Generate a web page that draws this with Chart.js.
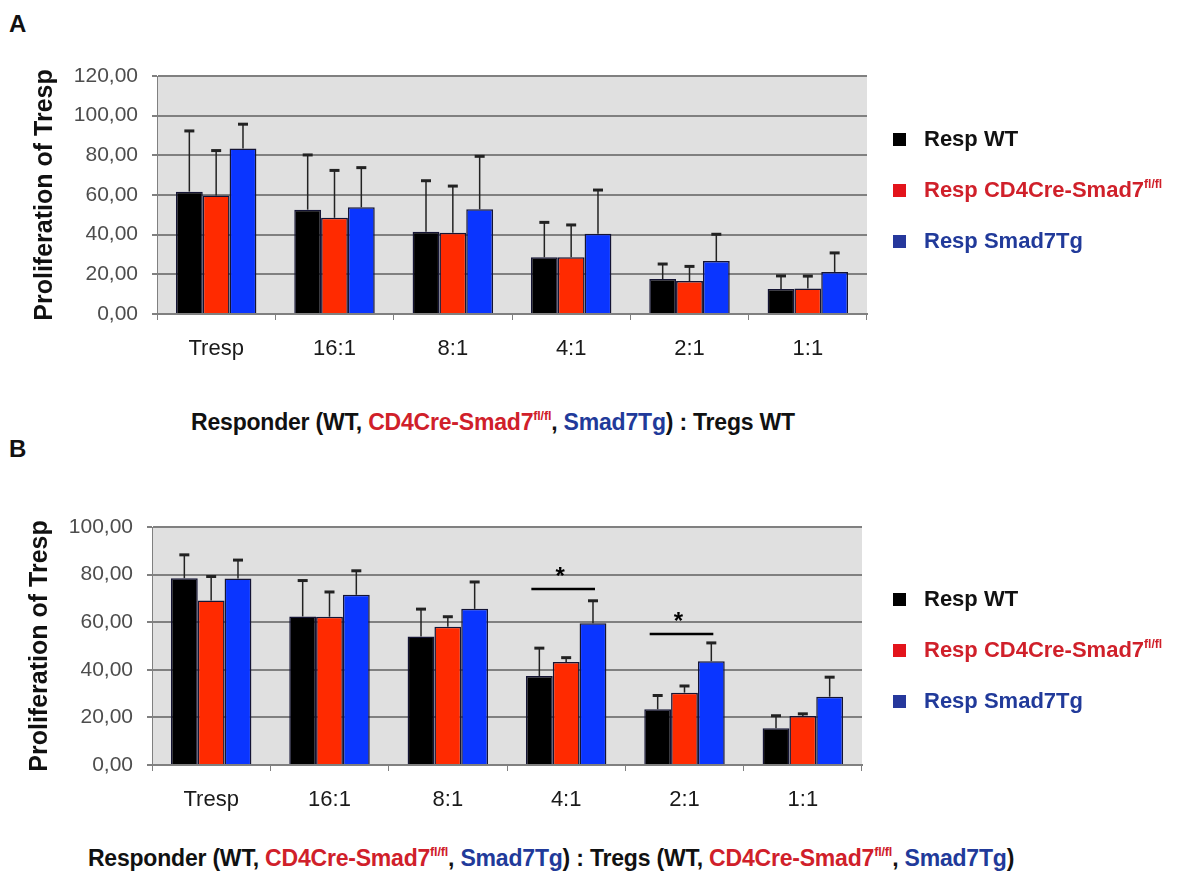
<!DOCTYPE html>
<html>
<head>
<meta charset="utf-8">
<title>Proliferation of Tresp</title>
<script src="https://cdn.jsdelivr.net/npm/chart.js@4.4.1/dist/chart.umd.min.js"></script>
<style>
    body { margin: 0; background: #fff; font-family: "Liberation Sans", Arial, sans-serif; }
    #page { position: relative; width: 1183px; height: 875px; overflow: hidden; }
    canvas { position: absolute; left: 0; }
    #chartA { top: 0; }
    #chartB { top: 440px; }
    .panel { position: absolute; left: 9px; font-weight: bold; font-size: 24px; line-height: 24px; color: #111; }
    .legend { position: absolute; left: 893px; font-weight: bold; font-size: 22px; }
    .legend .row { position: absolute; left: 0; height: 26px; display: flex; align-items: center; white-space: nowrap; }
    .legend .box { width: 13px; height: 13px; margin-right: 18px; }
    .xlabel { position: absolute; font-weight: bold; font-size: 23px; white-space: nowrap; transform: translate(-50%, -50%); color: #111; letter-spacing: -0.2px; }
    .r { color: #d0202a; }
    .b { color: #213a9a; }
    sup { font-size: 0.55em; vertical-align: 0.75em; line-height: 0; }
</style>
</head>
<body>
<div id="page">
    <div class="panel" style="top:12px">A</div>
    <div class="panel" style="top:437px">B</div>
    <canvas id="chartA" width="1183" height="400"></canvas>
    <canvas id="chartB" width="1183" height="400"></canvas>
    <div class="legend" id="legendA" style="top:126px"></div>
    <div class="legend" id="legendB" style="top:586px"></div>
    <div class="xlabel" style="left:493px; top:422px">Responder (WT, <span class="r">CD4Cre-Smad7<sup>fl/fl</sup></span>, <span class="b">Smad7Tg</span>) : Tregs WT</div>
    <div class="xlabel" style="left:551px; top:858px">Responder (WT, <span class="r">CD4Cre-Smad7<sup>fl/fl</sup></span>, <span class="b">Smad7Tg</span>) : Tregs (WT, <span class="r">CD4Cre-Smad7<sup>fl/fl</sup></span>, <span class="b">Smad7Tg</span>)</div>
</div>
<script>
// categories and series
const ratios = ["Tresp", "16:1", "8:1", "4:1", "2:1", "1:1"];
const seriesNames = ["Resp WT", "Resp CD4Cre-Smad7fl/fl", "Resp Smad7Tg"];
const barColors = ["#000000", "#ff2a00", "#0a35ff"];
const legendColors = ["#000000", "#e3141b", "#26389c"];
const legendText = ["#111111", "#d0202a", "#213a9a"];

// panel A: Tregs WT
const meanA_WT = [61.7, 52.6, 41.5, 28.6, 17.6, 12.6];
const meanA_KO = [59.7, 48.5, 41.0, 28.6, 16.6, 12.8];
const meanA_Tg = [83.4, 53.8, 52.8, 40.4, 26.7, 21.2];
const sdA_WT = [30.6, 27.6, 25.7, 17.6, 7.6, 6.6];
const sdA_KO = [22.7, 23.9, 23.5, 16.3, 7.4, 6.3];
const sdA_Tg = [12.3, 20.0, 26.7, 22.1, 13.5, 9.6];

// panel B: Tregs of same genotype
const meanB_WT = [78.5, 62.4, 54.0, 37.4, 23.4, 15.4];
const meanB_KO = [69.1, 62.3, 58.1, 43.3, 30.4, 20.6];
const meanB_Tg = [78.4, 71.5, 65.6, 59.6, 43.6, 28.7];
const sdB_WT = [9.8, 15.1, 11.5, 11.7, 5.8, 5.3];
const sdB_KO = [10.1, 10.4, 4.2, 1.8, 2.8, 0.9];
const sdB_Tg = [7.7, 10.1, 11.3, 9.4, 7.7, 8.2];

// significance (WT vs Smad7Tg) in panel B
const sigCategories = ["4:1", "2:1"];
const sigLevels = [74, 55];

const FONT = "'Liberation Sans', Arial, sans-serif";

const plotBackground = {
    id: 'plotBackground',
    beforeDraw(chart) {
        const a = chart.chartArea;
        chart.ctx.save();
        chart.ctx.fillStyle = '#e0e0e0';
        chart.ctx.fillRect(a.left, a.top, a.right - a.left, a.bottom - a.top);
        chart.ctx.restore();
    }
};

const errorBars = {
    id: 'errorBars',
    afterDatasetsDraw(chart) {
        const ctx = chart.ctx;
        const y = chart.scales.y;
        chart.data.datasets.forEach((ds, i) => {
            chart.getDatasetMeta(i).data.forEach((bar, j) => {
                const top = y.getPixelForValue(ds.data[j] + ds.sd[j]);
                ctx.save();
                ctx.strokeStyle = '#222';
                ctx.lineWidth = 1.5;
                ctx.beginPath();
                ctx.moveTo(bar.x, bar.y);
                ctx.lineTo(bar.x, top);
                ctx.stroke();
                ctx.lineWidth = 3;
                ctx.beginPath();
                ctx.moveTo(bar.x - 5, top);
                ctx.lineTo(bar.x + 5, top);
                ctx.stroke();
                ctx.restore();
            });
        });
    }
};

const sigMarks = {
    id: 'sigMarks',
    afterDraw(chart, args, opts) {
        if (!opts.cats) return;
        const ctx = chart.ctx;
        const y = chart.scales.y;
        opts.cats.forEach((cat, k) => {
            const idx = chart.data.labels.indexOf(cat);
            const left = chart.getDatasetMeta(0).data[idx];
            const right = chart.getDatasetMeta(2).data[idx];
            const x1 = left.x - 8, x2 = right.x + 2;
            const yy = y.getPixelForValue(opts.levels[k]);
            ctx.save();
            ctx.strokeStyle = '#000';
            ctx.lineWidth = 2.5;
            ctx.beginPath();
            ctx.moveTo(x1, yy);
            ctx.lineTo(x2, yy);
            ctx.stroke();
            ctx.fillStyle = '#000';
            ctx.font = 'bold 24px ' + FONT;
            ctx.textAlign = 'center';
            ctx.textBaseline = 'alphabetic';
            ctx.fillText('*', (x1 + x2) / 2 - 3, yy - 5);
            ctx.restore();
        });
    }
};

function makeData(means, sds) {
    return {
        labels: ratios,
        datasets: means.map((m, i) => ({
            label: seriesNames[i],
            data: m,
            sd: sds[i],
            backgroundColor: barColors[i],
            borderColor: '#141434',
            borderWidth: 1.5
        }))
    };
}

function makeOptions(yMax, pad, sig) {
    return {
        responsive: false,
        animation: false,
        layout: { padding: pad },
        datasets: { bar: { categoryPercentage: 0.68, barPercentage: 1 } },
        plugins: {
            legend: { display: false },
            tooltip: { enabled: false },
            sigMarks: sig
        },
        scales: {
            x: {
                grid: { offset: true, drawOnChartArea: false, drawTicks: true, tickLength: 6, color: '#808080', lineWidth: 1 },
                border: { display: true, color: '#808080', width: 2 },
                ticks: { font: { family: FONT, size: 22 }, color: '#1a1a1a', padding: 16, maxRotation: 0 },
                afterFit(s) { s.height = 50; }
            },
            y: {
                min: 0,
                max: yMax,
                ticks: {
                    stepSize: 20,
                    font: { family: FONT, size: 21 },
                    color: '#4d4d4d',
                    padding: 14,
                    callback: v => v.toFixed(2).replace('.', ',')
                },
                grid: { color: '#808080', lineWidth: 2, tickLength: 5 },
                border: { display: true, color: '#808080', width: 1 },
                title: {
                    display: true,
                    text: 'Proliferation of Tresp',
                    font: { family: FONT, size: 25, weight: 'bold' },
                    color: '#111',
                    padding: { top: 3, bottom: 0 }
                },
                afterFit(s) { s.width = 130; }
            }
        }
    };
}

new Chart(document.getElementById('chartA'), {
    type: 'bar',
    data: makeData([meanA_WT, meanA_KO, meanA_Tg], [sdA_WT, sdA_KO, sdA_Tg]),
    options: makeOptions(120, { left: 27, right: 316, top: 76, bottom: 36 }, {}),
    plugins: [plotBackground, errorBars, sigMarks]
});

new Chart(document.getElementById('chartB'), {
    type: 'bar',
    data: makeData([meanB_WT, meanB_KO, meanB_Tg], [sdB_WT, sdB_KO, sdB_Tg]),
    options: makeOptions(100, { left: 22, right: 321, top: 87, bottom: 25 }, { cats: sigCategories, levels: sigLevels }),
    plugins: [plotBackground, errorBars, sigMarks]
});

// html legends built from the series arrays
function buildLegend(id) {
    const el = document.getElementById(id);
    seriesNames.forEach((name, i) => {
        const row = document.createElement('div');
        row.className = 'row';
        row.style.top = (i * 51) + 'px';
        row.style.color = legendText[i];
        const txt = name.replace('fl/fl', '<sup>fl/fl</sup>');
        row.innerHTML = `<span class="box" style="background:${legendColors[i]}"></span><span>${txt}</span>`;
        el.appendChild(row);
    });
}
buildLegend('legendA');
buildLegend('legendB');
</script>
</body>
</html>
